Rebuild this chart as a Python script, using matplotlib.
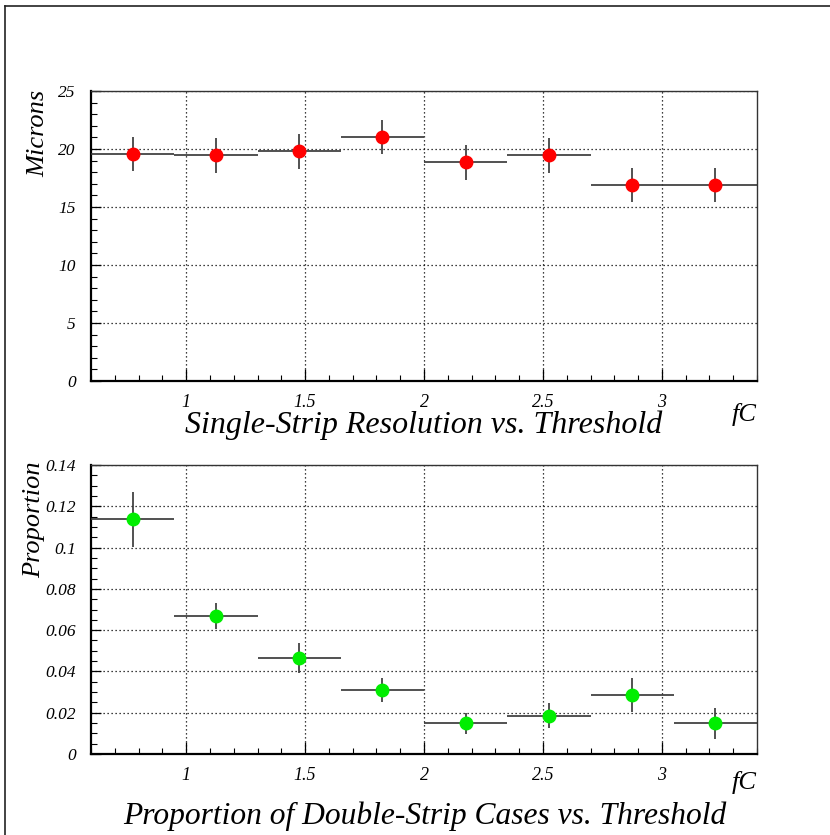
import numpy as np
import matplotlib.pyplot as plt
from matplotlib.ticker import MultipleLocator
from matplotlib.lines import Line2D

plt.rcParams['font.family'] = ['Liberation Serif', 'DejaVu Serif']
plt.rcParams['font.style'] = 'italic'

# bin centres (fC) and half-widths
thr = [0.775, 1.125, 1.475, 1.825, 2.175, 2.525, 2.875, 3.225]
half_bin = 0.175

# single-strip resolution (microns)
res = [19.55, 19.45, 19.8, 21.05, 18.85, 19.45, 16.9, 16.9]
res_err = [1.45, 1.5, 1.5, 1.47, 1.5, 1.5, 1.5, 1.5]

# proportion of double-strip cases
prop = [0.1136, 0.0667, 0.0465, 0.031, 0.0148, 0.0186, 0.0286, 0.0148]
prop_err = [0.0131, 0.0063, 0.0074, 0.006, 0.005, 0.006, 0.0082, 0.0075]

fig = plt.figure(figsize=(8.3, 8.35), dpi=100)

# outer frame (left and top edges visible)
fig.add_artist(Line2D([5/830, 5/830], [0, 1-6/835], transform=fig.transFigure, color='#222222', lw=1.2))
fig.add_artist(Line2D([5/830, 1], [1-6/835, 1-6/835], transform=fig.transFigure, color='#222222', lw=1.2))

ax1 = fig.add_axes([91/830, 1-381/835, 666/830, 290/835])
ax2 = fig.add_axes([91/830, 1-754/835, 666/830, 289/835])

fmt = plt.FuncFormatter(lambda v, p: '%g' % round(v, 3))

def style(ax, ymax, ymaj, ymin):
    ax.set_xlim(0.6, 3.4)
    ax.set_ylim(0, ymax)
    ax.xaxis.set_major_locator(MultipleLocator(0.5))
    ax.xaxis.set_minor_locator(MultipleLocator(0.1))
    ax.yaxis.set_major_locator(MultipleLocator(ymaj))
    ax.yaxis.set_minor_locator(MultipleLocator(ymin))
    ax.xaxis.set_major_formatter(fmt)
    ax.yaxis.set_major_formatter(fmt)
    ax.tick_params(axis='x', which='major', direction='in', length=9, width=0.9, pad=9, labelsize=13)
    ax.tick_params(axis='x', which='minor', direction='in', length=4.5, width=0.8)
    ax.tick_params(axis='y', which='major', direction='in', length=7, width=0.9, pad=11, labelsize=12.5)
    ax.tick_params(axis='y', which='minor', direction='in', length=4.5, width=0.8)
    ax.grid(True, which='major', linestyle=(0, (1, 2.2)), color='black', lw=0.9)
    for s in ax.spines.values():
        s.set_linewidth(1.0)
        s.set_color('#333333')
    ax.spines['bottom'].set_linewidth(1.6)
    ax.spines['left'].set_linewidth(1.6)
    ax.spines['bottom'].set_color('black')
    ax.spines['left'].set_color('black')

style(ax1, 25, 5, 1)
style(ax2, 0.14, 0.02, 0.005)

ax1.errorbar(thr, res, xerr=half_bin, yerr=res_err, fmt='o', color='#ff0000',
             ecolor='#333333', elinewidth=1.2, capsize=0, markersize=9, zorder=3)
ax2.errorbar(thr, prop, xerr=half_bin, yerr=prop_err, fmt='o', color='#00ee00',
             ecolor='#333333', elinewidth=1.2, capsize=0, markersize=9, zorder=3)

fig.text(38/830, 1-90/835, 'Microns', rotation=90, ha='center', va='top', fontsize=19)
fig.text(34/830, 1-461/835, 'Proportion', rotation=90, ha='center', va='top', fontsize=19)

fig.text(757/830, 1-415/835, 'fC', ha='right', va='center', fontsize=19)
fig.text(757/830, 1-783/835, 'fC', ha='right', va='center', fontsize=19)

fig.text(424/830, 1-425/835, 'Single-Strip Resolution vs. Threshold', ha='center', va='center', fontsize=23)
fig.text(425/830, 1-816/835, 'Proportion of Double-Strip Cases vs. Threshold', ha='center', va='center', fontsize=22.7)

fig.savefig('out.png', dpi=100)
